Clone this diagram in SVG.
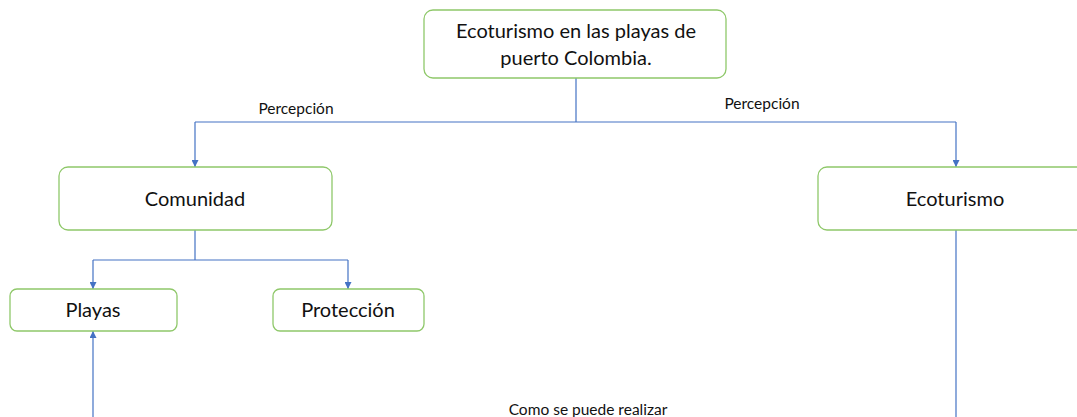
<svg xmlns="http://www.w3.org/2000/svg" width="1077" height="417" viewBox="0 0 1077 417">
<defs>
<marker id="arr" viewBox="0 0 10 10" refX="10" refY="5" markerWidth="7" markerHeight="7" markerUnits="userSpaceOnUse" orient="auto">
<path d="M0,0 L10,5 L0,10 z" fill="#4472c4"/>
</marker>
<style>
.box{fill:#fff;stroke:#8fc86a;stroke-width:1.3}
.t{font-family:Lato,"Liberation Sans",sans-serif;fill:#111;text-anchor:middle}
.big{font-size:20px}
.sm{font-size:15.5px}
.c{fill:none;stroke:#4472c4;stroke-width:1.2}
</style>
</defs>
<rect width="1077" height="417" fill="#fff"/>
<g id="connectors">
<path class="c" d="M576,78 V122 M195,122 H956"/>
<path class="c" d="M195,122 V167" marker-end="url(#arr)"/>
<path class="c" d="M956,122 V167" marker-end="url(#arr)"/>
<path class="c" d="M195,230 V260 M93,260 H348"/>
<path class="c" d="M93,260 V289" marker-end="url(#arr)"/>
<path class="c" d="M348,260 V289" marker-end="url(#arr)"/>
<path class="c" d="M93,417 V331" marker-end="url(#arr)"/>
<path class="c" d="M956,230 V417"/>
<text class="t sm" x="296" y="114">Percepción</text>
<text class="t sm" x="762" y="109">Percepción</text>
<text class="t sm" x="588" y="415">Como se puede realizar</text>
</g>
<g id="root">
<rect class="box" x="424" y="10" width="302" height="68" rx="9"/>
<text class="t big" x="576" y="38">Ecoturismo en las playas de</text>
<text class="t big" x="576" y="65">puerto Colombia.</text>
</g>
<g id="comunidad">
<rect class="box" x="59" y="167" width="273" height="63" rx="9"/>
<text class="t big" x="195" y="206">Comunidad</text>
</g>
<g id="ecoturismo">
<rect class="box" x="818" y="167" width="270" height="63" rx="9"/>
<text class="t big" x="955" y="206">Ecoturismo</text>
</g>
<g id="playas">
<rect class="box" x="10" y="289" width="167" height="42" rx="7"/>
<text class="t big" x="93" y="317">Playas</text>
</g>
<g id="proteccion">
<rect class="box" x="273" y="289" width="151" height="42" rx="7"/>
<text class="t big" x="348" y="317">Protección</text>
</g>
</svg>
